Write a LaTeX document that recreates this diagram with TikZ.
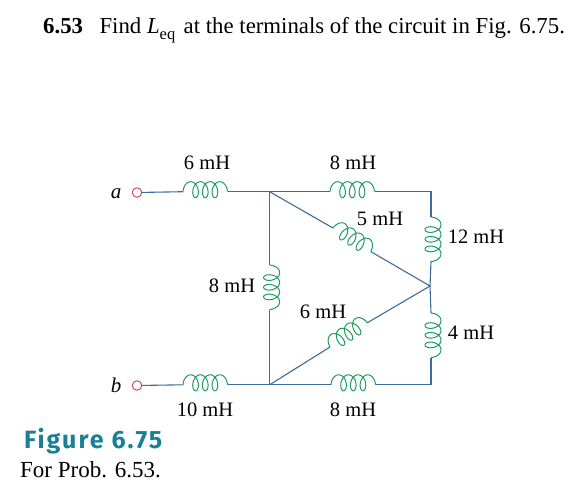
\documentclass[tikz,border=0pt]{standalone}
\usepackage{fontspec}
\setmainfont{Liberation Serif}
\newfontfamily\figfont[LetterSpace=8]{Fira Sans}
\definecolor{wireblue}{HTML}{3D6C9C}
\definecolor{coilgreen}{HTML}{1E9A62}
\definecolor{termred}{HTML}{C64552}
\definecolor{figteal}{HTML}{1B7F97}
\tikzset{
  ind/.pic={
    \draw[coilgreen, line width=1pt] plot[domain=-104:1184, samples=160, smooth, variable=\t]
      ({7.7+9.7*\t/360+5*sin(\t)},{-2-8*cos(\t)});
    \coordinate (-in) at (0,0);
    \coordinate (-out) at (44.5,0);
  }
}
\begin{document}
\begin{tikzpicture}[
      x=1pt, y=-1pt,
      wire/.style={draw=wireblue, line width=1.1pt},
      term/.style={circle, draw=termred, line width=0.9pt, fill=white, minimum size=9.5pt, inner sep=0pt},
      val/.style={font=\fontsize{20.5}{22}\selectfont, inner sep=0pt, anchor=base},
      txt/.style={inner sep=0pt, anchor=base west}
    ]
      \useasboundingbox (0,0) rectangle (585,496);
      % title
      \node[txt, font=\fontsize{22.8}{25}\selectfont] (title) at (43,33) {\textbf{6.53}\hspace{0.72em}Find \textit{L}\raisebox{-0.3em}{\fontsize{16.5}{16}\selectfont eq}\hspace{0.12em} at the terminals of the circuit in Fig. 6.75.};
      % terminals and junctions
      \node[term] (a) at (137,192.5) {};
      \node[term] (b) at (137,385.5) {};
      \node[val, font=\fontsize{21}{22}\selectfont\itshape] (alab) at (116,198) {a};
      \node[val, font=\fontsize{21}{22}\selectfont\itshape] (blab) at (116,392) {b};
      \coordinate (top) at (269.6,191.7);
      \coordinate (bot) at (269.6,384.8);
      \coordinate (tr) at (431,191.7);
      \coordinate (mid) at (430,286);
      \coordinate (br) at (431,384.8);
      % inductors
      \pic (Lsix)  at (183,191.7) {ind};
      \pic (Lten)  at (183,384.8) {ind};
      \pic (Ltop)  at (330,191.7) {ind};
      \pic (Lbot)  at (331,384.8) {ind};
      \pic[rotate=-90] (Lleft) at (269.6,265) {ind};
      \pic[rotate=-90] (Ltw)   at (431,217) {ind};
      \pic[rotate=-90] (Lfour) at (431,313) {ind};
      \pic[rotate=-32] (Lfive) at (333,228) {ind};
      \pic[rotate=33]  (Ldia)  at (330,347) {ind};
      % wires
      \draw[wire] (a) -- (Lsix-in);
      \draw[wire] (Lsix-out) -- (top);
      \draw[wire] (top) -- (Ltop-in);
      \draw[wire] (Ltop-out) -- (tr) -- (Ltw-in);
      \draw[wire] (Ltw-out) -- (mid);
      \draw[wire] (mid) -- (Lfour-in);
      \draw[wire] (Lfour-out) -- (br) -- (Lbot-out);
      \draw[wire] (Lbot-in) -- (bot);
      \draw[wire] (bot) -- (Lten-out);
      \draw[wire] (Lten-in) -- (b);
      \draw[wire] (top) -- (Lleft-in);
      \draw[wire] (Lleft-out) -- (bot);
      \draw[wire] (top) -- (Lfive-in);
      \draw[wire] (Lfive-out) -- (mid);
      \draw[wire] (bot) -- (Ldia-in);
      \draw[wire] (Ldia-out) -- (mid);
      % values
      \node[val] (vsix)  at (207,169) {6 mH};
      \node[val] (vtop)  at (353,169) {8 mH};
      \node[val] (vfive) at (380,225) {5 mH};
      \node[val] (vtw)   at (476,243) {12 mH};
      \node[val] (vleft) at (232,292) {8 mH};
      \node[val] (vdia)  at (323,318) {6 mH};
      \node[val] (vfour) at (471,339) {4 mH};
      \node[val] (vten)  at (205,416) {10 mH};
      \node[val] (vbot)  at (353,416) {8 mH};
      % caption
      \node[txt, text=figteal, font=\figfont\bfseries\fontsize{25}{27}\selectfont] (fig) at (24,448) {Figure 6.75};
      \node[txt, font=\fontsize{23}{25}\selectfont] (cap) at (20,477) {For Prob. 6.53.};
    \end{tikzpicture}
\end{document}
